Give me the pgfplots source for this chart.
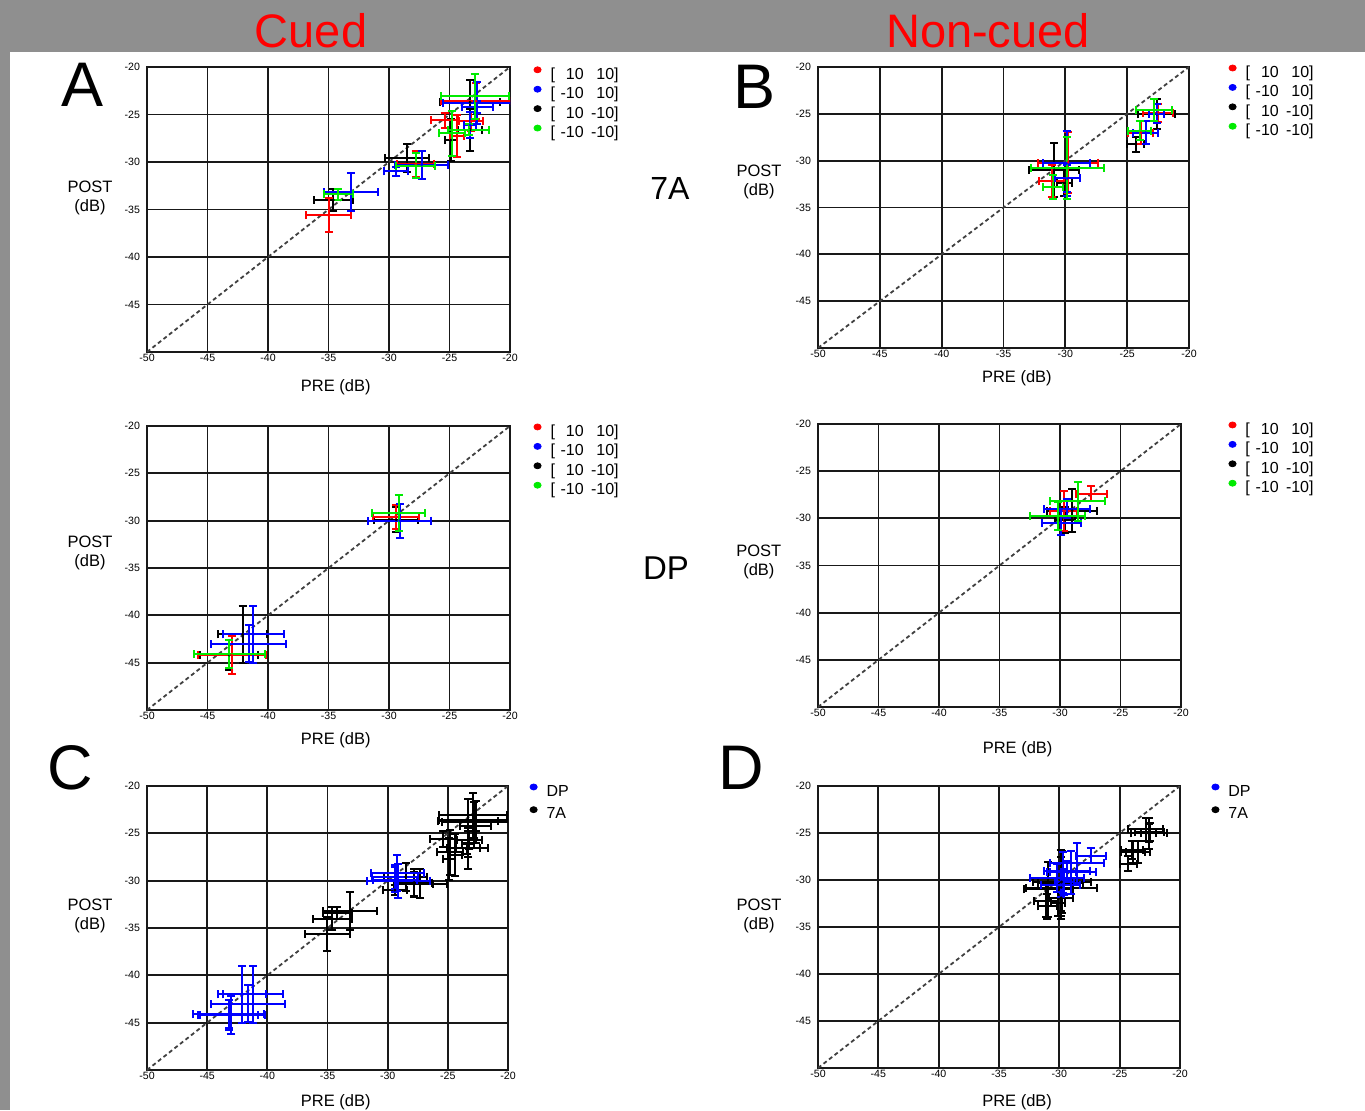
\documentclass[border=0pt]{standalone}
\usepackage{fontspec}
\setmainfont{Liberation Sans}
\usepackage{pgfplots}
\usepackage{pgfplotstable}
\pgfplotsset{compat=1.18}

\definecolor{band}{RGB}{143,143,143}
\definecolor{gridc}{RGB}{25,25,25}
\definecolor{gr}{RGB}{0,235,0}
\definecolor{bl}{RGB}{0,0,255}
\definecolor{rd}{RGB}{255,0,0}

% legend label: two right-aligned fields inside brackets
\newcommand\legtxt[2]{[\makebox[1.8em][r]{#1}\makebox[1.9em][r]{#2}]}

% ---------- Cued, 7A ----------
\pgfplotstableread{
x y ex ey
-22.8 -23.6 2.9 1.9
-23.2 -25.7 1.0 1.0
-24.4 -27.3 0.6 2.2
-25.4 -25.6 1.1 0.8
-27.8 -30.2 1.5 1.4
-35.0 -35.6 1.9 1.8
}\cuedAred
\pgfplotstableread{
x y ex ey
-22.7 -23.8 2.8 2.2
-22.7 -24.2 1.3 0.6
-23.3 -26.1 0.5 1.4
-27.3 -30.3 2.2 1.5
-29.4 -31.0 1.0 0.5
-33.15 -33.2 2.25 2.0
}\cuedAblue
\pgfplotstableread{
x y ex ey
-23.3 -23.7 2.5 2.3
-23.3 -26.6 1.0 2.2
-24.9 -27.7 0.5 2.2
-28.5 -29.6 1.8 1.5
-34.6 -34.0 1.6 1.2
}\cuedAblack
\pgfplotstableread{
x y ex ey
-22.9 -23.1 2.8 2.4
-23.4 -26.6 1.7 0.6
-24.8 -27.0 1.1 2.4
-27.8 -30.4 1.6 1.3
-34.2 -33.4 1.2 0.6
}\cuedAgreen

% ---------- Non-cued, 7A ----------
\pgfplotstableread{
x y ex ey
-22.5 -24.9 1.2 1.0
-23.9 -27.0 1.0 1.2
-29.8 -30.2 2.4 3.3
-31.1 -32.2 1.0 1.7
}\nonAred
\pgfplotstableread{
x y ex ey
-22.6 -25.0 0.6 1.0
-23.5 -27.0 1.0 1.2
-29.9 -30.3 1.9 3.5
-29.85 -31.9 1.0 1.4
}\nonAblue
\pgfplotstableread{
x y ex ey
-22.6 -25.05 1.5 1.6
-24.3 -28.25 0.7 0.8
-30.9 -31.0 2.0 2.9
-30.1 -32.4 0.6 1.4
}\nonAblack
\pgfplotstableread{
x y ex ey
-22.85 -24.6 1.45 1.2
-24.0 -26.8 0.9 1.0
-29.85 -30.8 2.95 3.3
-31.0 -32.8 0.8 1.3
}\nonAgreen

% ---------- Cued, DP ----------
\pgfplotstableread{
x y ex ey
-29.4 -29.6 1.9 1.3
-43.0 -44.2 2.8 2.0
}\cuedDred
\pgfplotstableread{
x y ex ey
-29.1 -30.0 2.6 1.8
-41.6 -43.0 3.1 1.95
-41.2 -42.0 2.5 3.0
}\cuedDblue
\pgfplotstableread{
x y ex ey
-29.4 -29.9 1.8 1.3
-43.2 -44.2 2.4 1.6
-42.1 -42.0 2.0 3.0
}\cuedDblack
\pgfplotstableread{
x y ex ey
-29.2 -29.2 2.2 1.9
-43.2 -44.1 2.95 1.5
}\cuedDgreen

% ---------- Non-cued, DP ----------
\pgfplotstableread{
x y ex ey
-27.4 -27.4 1.25 0.8
-29.7 -29.2 1.1 2.15
}\nonDred
\pgfplotstableread{
x y ex ey
-29.4 -29.0 1.9 1.0
-29.9 -30.5 1.6 1.3
}\nonDblue
\pgfplotstableread{
x y ex ey
-29.0 -29.2 2.05 2.3
-29.6 -30.2 0.8 1.4
}\nonDblack
\pgfplotstableread{
x y ex ey
-28.55 -28.2 2.25 2.1
-30.2 -29.75 2.25 1.5
}\nonDgreen

\pgfplotsset{
  panel/.style={
    scale only axis, anchor=south west,
    xmin=-50, xmax=-20, ymin=-50, ymax=-20,
    xtick={-50,-45,...,-20}, ytick={-45,-40,...,-20},
    grid=major, major grid style={gridc, line width=0.9pt},
    axis line style={gridc, line width=0.9pt},
    major tick length=0pt,
    tick label style={font=\fontsize{5.3}{6}\selectfont},
    xticklabel style={inner sep=1pt},
    /pgf/number format/assume math mode=true,
    xlabel={PRE (dB)}, ylabel={POST\\(dB)},
    label style={font=\fontsize{8.25}{9.6}\selectfont, align=center},
    xlabel style={anchor=center},
    ylabel style={rotate=-90, anchor=center},
    legend style={draw=none, fill=none, anchor=north west,
      font=\fontsize{8}{9.5}\selectfont, row sep=1.2pt, inner sep=0pt,
      nodes={inner sep=0.6pt}},
    legend cell align=left,
    legend image code/.code={\fill (0.1cm,0.09cm) ellipse (1.8pt and 1.5pt); \path (0,0) (0.3cm,0);},
  },
  diag/.style={black!75, line width=0.9pt, dash pattern=on 2pt off 1.5pt, forget plot},
  eb/.style={only marks, mark=*, mark size=0.5pt,
    error bars/x dir=both, error bars/x explicit,
    error bars/y dir=both, error bars/y explicit,
    error bars/error bar style={line width=1pt},
    error bars/error mark options={rotate=90, mark size=2pt, line width=1pt}},
}
\newcommand\ebplot[2]{\addplot[eb, #1] table[x=x, y=y, x error=ex, y error=ey]{#2};}

\begin{document}
\begin{tikzpicture}
\path[use as bounding box] (0,0) rectangle (682.5pt,555pt);
\fill[band] (0,0) rectangle (682.5pt,555pt);
\fill[white] (5pt,0) rectangle (682.5pt,529pt);

% ---- A: cued, 7A
\begin{axis}[panel, at={(73.5pt,379pt)}, width=181.5pt, height=142.5pt,
  xlabel style={at={(rel axis cs:0.52,-0.122)}},
  ylabel style={at={(rel axis cs:-0.157,0.54)}},
  legend style={at={(rel axis cs:1.058,1.0035)}}]
\addlegendimage{rd}\addlegendentry{\legtxt{10}{10}}
\addlegendimage{bl}\addlegendentry{\legtxt{-10}{10}}
\addlegendimage{black}\addlegendentry{\legtxt{10}{-10}}
\addlegendimage{gr}\addlegendentry{\legtxt{-10}{-10}}
\addplot[diag] coordinates {(-50,-50) (-20,-20)};
\ebplot{black}{\cuedAblack}
\ebplot{rd}{\cuedAred}
\ebplot{bl}{\cuedAblue}
\ebplot{gr}{\cuedAgreen}
\end{axis}

% ---- B: non-cued, 7A
\begin{axis}[panel, at={(409pt,381pt)}, width=185.5pt, height=140.5pt,
  xlabel style={at={(rel axis cs:0.536,-0.107)}},
  ylabel style={at={(rel axis cs:-0.159,0.59)}},
  legend style={at={(rel axis cs:1.1,1.01)}}]
\addlegendimage{rd}\addlegendentry{\legtxt{10}{10}}
\addlegendimage{bl}\addlegendentry{\legtxt{-10}{10}}
\addlegendimage{black}\addlegendentry{\legtxt{10}{-10}}
\addlegendimage{gr}\addlegendentry{\legtxt{-10}{-10}}
\addplot[diag] coordinates {(-50,-50) (-20,-20)};
\ebplot{black}{\nonAblack}
\ebplot{rd}{\nonAred}
\ebplot{bl}{\nonAblue}
\ebplot{gr}{\nonAgreen}
\end{axis}

% ---- cued, DP
\begin{axis}[panel, at={(73.5pt,200pt)}, width=181.5pt, height=142pt,
  xlabel style={at={(rel axis cs:0.52,-0.106)}},
  ylabel style={at={(rel axis cs:-0.157,0.553)}},
  legend style={at={(rel axis cs:1.058,1.01)}}]
\addlegendimage{rd}\addlegendentry{\legtxt{10}{10}}
\addlegendimage{bl}\addlegendentry{\legtxt{-10}{10}}
\addlegendimage{black}\addlegendentry{\legtxt{10}{-10}}
\addlegendimage{gr}\addlegendentry{\legtxt{-10}{-10}}
\addplot[diag] coordinates {(-50,-50) (-20,-20)};
\ebplot{black}{\cuedDblack}
\ebplot{rd}{\cuedDred}
\ebplot{bl}{\cuedDblue}
\ebplot{gr}{\cuedDgreen}
\end{axis}

% ---- non-cued, DP
\begin{axis}[panel, at={(409pt,201.5pt)}, width=181.5pt, height=141.5pt,
  xlabel style={at={(rel axis cs:0.55,-0.148)}},
  ylabel style={at={(rel axis cs:-0.163,0.512)}},
  legend style={at={(rel axis cs:1.124,1.01)}}]
\addlegendimage{rd}\addlegendentry{\legtxt{10}{10}}
\addlegendimage{bl}\addlegendentry{\legtxt{-10}{10}}
\addlegendimage{black}\addlegendentry{\legtxt{10}{-10}}
\addlegendimage{gr}\addlegendentry{\legtxt{-10}{-10}}
\addplot[diag] coordinates {(-50,-50) (-20,-20)};
\ebplot{black}{\nonDblack}
\ebplot{rd}{\nonDred}
\ebplot{bl}{\nonDblue}
\ebplot{gr}{\nonDgreen}
\end{axis}

% ---- C: cued, DP and 7A together
\begin{axis}[panel, at={(73.5pt,20pt)}, width=180.5pt, height=142pt,
  xlabel style={at={(rel axis cs:0.523,-0.113)}},
  ylabel style={at={(rel axis cs:-0.158,0.542)}},
  legend style={at={(rel axis cs:1.053,1.01)}, row sep=3pt}]
\addlegendimage{bl}\addlegendentry{DP}
\addlegendimage{black}\addlegendentry{7A}
\addplot[diag] coordinates {(-50,-50) (-20,-20)};
\ebplot{black}{\cuedAred}
\ebplot{black}{\cuedAblue}
\ebplot{black}{\cuedAblack}
\ebplot{black}{\cuedAgreen}
\ebplot{bl}{\cuedDred}
\ebplot{bl}{\cuedDblue}
\ebplot{bl}{\cuedDblack}
\ebplot{bl}{\cuedDgreen}
\end{axis}

% ---- D: non-cued, DP and 7A together
\begin{axis}[panel, at={(409pt,21pt)}, width=181pt, height=141pt,
  xlabel style={at={(rel axis cs:0.55,-0.12)}},
  ylabel style={at={(rel axis cs:-0.163,0.539)}},
  legend style={at={(rel axis cs:1.08,1.01)}, row sep=3pt}]
\addlegendimage{bl}\addlegendentry{DP}
\addlegendimage{black}\addlegendentry{7A}
\addplot[diag] coordinates {(-50,-50) (-20,-20)};
\ebplot{black}{\nonAred}
\ebplot{black}{\nonAblue}
\ebplot{black}{\nonAblack}
\ebplot{black}{\nonAgreen}
\ebplot{bl}{\nonDred}
\ebplot{bl}{\nonDblue}
\ebplot{bl}{\nonDblack}
\ebplot{bl}{\nonDgreen}
\end{axis}

% column titles, panel letters, row labels
\node[rd, font=\fontsize{23.5}{26}\selectfont] at (155.5pt,539.5pt) {Cued};
\node[rd, font=\fontsize{23.5}{26}\selectfont] at (494pt,539.5pt) {Non-cued};
\node[font=\fontsize{31.5}{34}\selectfont] at (41.5pt,512.5pt) {A};
\node[font=\fontsize{31.5}{34}\selectfont] at (377.5pt,511.5pt) {B};
\node[font=\fontsize{31.5}{34}\selectfont] at (35pt,171pt) {C};
\node[font=\fontsize{31.5}{34}\selectfont] at (370.5pt,171pt) {D};
\node[font=\fontsize{16}{18}\selectfont] at (335pt,461pt) {7A};
\node[font=\fontsize{16.5}{18}\selectfont] at (333pt,271pt) {DP};
\end{tikzpicture}
\end{document}
